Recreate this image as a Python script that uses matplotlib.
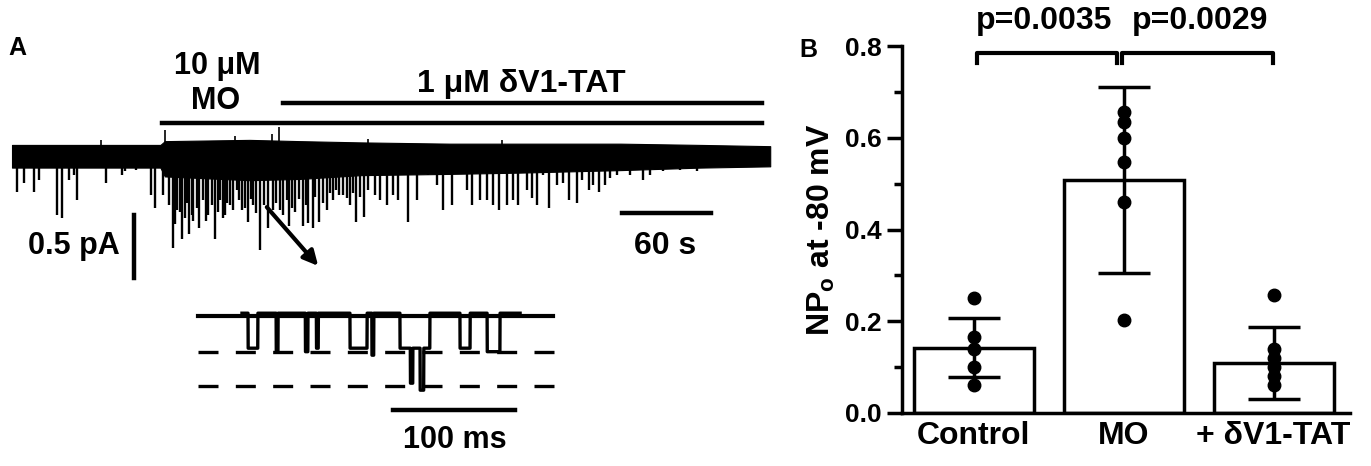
import numpy as np
import matplotlib.pyplot as plt

plt.rcParams['font.family'] = ['Liberation Sans', 'DejaVu Sans']
plt.rcParams['font.weight'] = 'bold'
plt.rcParams['axes.labelweight'] = 'bold'
plt.rcParams['mathtext.fontset'] = 'custom'
plt.rcParams['mathtext.rm'] = 'Liberation Sans:bold'
plt.rcParams['mathtext.bf'] = 'Liberation Sans:bold'

# ---- panel A: long recording (time in s, current in pA) ----
spike_t = [3.4, 8.1, 14.8, 18.2, 30.3, 33.7, 38.4, 41.8, 43.8, 63.4, 74.1, 76.2,
           83.6, 93.7, 96.4, 101.8,
           108.5, 111.2, 114.6, 116.6, 119.3, 122.0, 126.0, 128.7, 132.1, 136.8,
           140.2, 143.6, 146.9, 149.0, 151.7, 155.0, 159.1, 162.4, 167.2, 172.5,
           175.9, 182.7, 186.7, 190.7, 196.1, 199.5, 202.9, 206.9, 212.3, 216.4,
           220.4, 223.1, 227.8, 231.9, 237.2, 244.7, 248.0, 252.8, 256.8, 260.2,
           266.9, 273.0, 280.4, 286.5, 290.5, 296.6, 306.7, 310.0, 315.4, 320.2,
           324.2, 328.2, 333.6, 337.7, 341.0, 347.1, 350.5, 353.9, 357.9, 361.9,
           367.3, 371.4, 375.4, 380.8, 384.2, 388.9, 391.6, 395.6, 399.7, 403.1,
           407.8, 416.5, 425.3, 430.0, 438.8, 450.2, 461.7,
           106.0, 110.0, 113.0, 118.0, 121.0, 124.5, 130.5, 134.5, 138.5, 142.0,
           145.0, 152.8, 157.0, 161.0, 164.5, 170.0, 178.0, 180.5, 185.0, 189.0,
           193.5, 198.0, 204.5, 209.5, 214.5, 218.5, 225.5, 229.5, 234.5, 240.0]
spike_amp = [-0.29, -0.22, -0.29, -0.20, -0.48, -0.50, -0.20, -0.16, -0.36, -0.22, -0.16, -0.13,
             -0.12, -0.32, -0.42, -0.32,
             -0.74, -0.44, -0.67, -0.50, -0.63, -0.52, -0.58, -0.36, -0.48, -0.67,
             -0.36, -0.48, -0.40, -0.44, -0.28, -0.44, -0.53, -0.40, -0.75, -0.58,
             -0.44, -0.48, -0.56, -0.45, -0.56, -0.54, -0.58, -0.53, -0.44, -0.36,
             -0.32, -0.32, -0.40, -0.53, -0.49, -0.32, -0.36, -0.40, -0.32, -0.36,
             -0.53, -0.36, -0.16, -0.24, -0.44, -0.40, -0.28, -0.40, -0.36, -0.36,
             -0.40, -0.44, -0.40, -0.36, -0.40, -0.28, -0.34, -0.40, -0.16, -0.42,
             -0.24, -0.22, -0.36, -0.38, -0.20, -0.28, -0.24, -0.29, -0.24, -0.18,
             -0.16, -0.16, -0.20, -0.16, -0.13, -0.12, -0.13,
             -0.40, -0.55, -0.45, -0.38, -0.48, -0.42, -0.52, -0.40, -0.45, -0.50,
             -0.38, -0.36, -0.42, -0.35, -0.46, -0.40, -0.38, -0.44, -0.36, -0.42,
             -0.35, -0.40, -0.33, -0.38, -0.30, -0.28, -0.34, -0.30, -0.33, -0.28]
up_t = [60, 103, 150, 175, 180, 240, 330]
up_amp = [0.12, 0.20, 0.15, 0.17, 0.22, 0.13, 0.12]
env_t = [0, 100, 103, 160, 194, 235, 295, 342, 410, 464, 511]
env_hi = [0.08, 0.08, 0.11, 0.12, 0.11, 0.10, 0.09, 0.09, 0.09, 0.08, 0.07]
env_lo = [-0.10, -0.10, -0.17, -0.20, -0.19, -0.16, -0.15, -0.14, -0.12, -0.10, -0.09]

# ---- panel A inset: single channel openings (time in ms, level in channels) ----
open_start = [5, 28, 52, 61, 88.5, 106.5, 129.5, 178.7, 201]
open_end = [13, 29.5, 54, 62.5, 102.5, 108, 154, 187, 211.5]
open_level = [-1, -1.1, -1.1, -1, -1, -1.2, -1, -1, -1.1]
dbl_start = [138, 146]
dbl_end = [140, 149]
dbl_level = [-2, -2.2]
inset_len = 228

# ---- panel B ----
groups = ['Control', 'MO', '+ δV1-TAT']
bar_mean = [0.142, 0.508, 0.109]
bar_sd = [0.064, 0.203, 0.079]
ctrl_pts = [0.25, 0.165, 0.14, 0.10, 0.06]
mo_pts = [0.656, 0.634, 0.60, 0.547, 0.46, 0.203]
tat_pts = [0.257, 0.14, 0.12, 0.10, 0.08, 0.06]

fig = plt.figure(figsize=(13.71, 4.66), dpi=100)

# panel A
axA = fig.add_axes([0, 0, 780 / 1371, 1])
axA.set_xlim(-8.09, 517.6)
axA.set_ylim(-2.468, 1.230)
axA.axis('off')
axA.fill_between(env_t, env_lo, env_hi, color='black', lw=0.8)
axA.vlines(spike_t, 0, spike_amp, color='black', lw=1.7)
axA.vlines(up_t, 0, up_amp, color='black', lw=1.2)
axA.plot([101.1, 505.5], [0.254, 0.254], color='black', lw=3.2)
axA.plot([182.7, 505.5], [0.413, 0.413], color='black', lw=3.2)
axA.text(138, 0.71, '10 μM', ha='center', va='center', fontsize=22)
axA.text(137, 0.43, 'MO', ha='center', va='center', fontsize=22)
axA.text(343, 0.56, '1 μM δV1-TAT', ha='center', va='center', fontsize=23)
axA.text(3.4, 0.85, 'A', ha='center', va='center', fontsize=18)
axA.plot([411.1, 471.1], [-0.46, -0.46], color='black', lw=3.2)
axA.text(440, -0.72, '60 s', ha='center', va='center', fontsize=23)
axA.plot([82.2, 82.2], [-0.476, -0.976], color='black', lw=3.2)
axA.text(72.8, -0.72, '0.5 pA', ha='right', va='center', fontsize=22)
axA.annotate('', xy=(207.6, -0.897), xytext=(170.5, -0.397),
             arrowprops=dict(arrowstyle='-|>', color='black', lw=3, mutation_scale=22))

# inset
axI = fig.add_axes([190 / 1371, (466 - 450) / 466, 370 / 1371, 160 / 466])
axI.set_xlim(-42.6, 260.7)
axI.set_ylim(-3.83, 0.743)
axI.axis('off')
tt = np.linspace(0, inset_len, 3000)
yy = np.zeros_like(tt)
for s, e, lv in zip(open_start, open_end, open_level):
    yy[(tt >= s) & (tt <= e)] = lv
for s, e, lv in zip(dbl_start, dbl_end, dbl_level):
    yy[(tt >= s) & (tt <= e)] = lv
axI.plot([-36.1, 254.9], [0, 0], color='black', lw=3)
axI.plot([-36.1, 257], [-1.03, -1.03], color='black', lw=2.4, ls=(0, (6, 5.2)))
axI.plot([-36.1, 257], [-2.0, -2.0], color='black', lw=2.4, ls=(0, (6, 5.2)))
axI.plot(tt, yy + 0.08, color='black', lw=2.4)
axI.plot([123.8, 223.8], [-2.69, -2.69], color='black', lw=3.2)
axI.text(174.6, -3.54, '100 ms', ha='center', va='center', fontsize=22)

# panel B
axB = fig.add_axes([902 / 1371, 53 / 466, 448 / 1371, 367 / 466])
x = np.arange(len(groups))
axB.bar(x, bar_mean, width=0.8, color='white', edgecolor='black', linewidth=2.5, zorder=1)
axB.errorbar(x, bar_mean, yerr=bar_sd, fmt='none', ecolor='black', elinewidth=2.5,
             capsize=19, capthick=2.5, zorder=2)
for i, pts in enumerate([ctrl_pts, mo_pts, tat_pts]):
    axB.plot([i] * len(pts), pts, 'o', color='black', ms=9, zorder=3, clip_on=False)
axB.set_xlim(-0.48, 2.51)
axB.set_ylim(0, 0.8)
for s in ['top', 'right']:
    axB.spines[s].set_visible(False)
for s in ['left', 'bottom']:
    axB.spines[s].set_linewidth(2.5)
axB.set_yticks([0, 0.2, 0.4, 0.6, 0.8])
axB.set_yticks([0.1, 0.3, 0.5, 0.7], minor=True)
axB.set_yticklabels(['0.0', '0.2', '0.4', '0.6', '0.8'])
axB.tick_params(axis='y', which='major', length=11, width=2.5, labelsize=19)
axB.tick_params(axis='y', which='minor', length=6, width=2.5)
axB.set_xticks(x)
axB.set_xticklabels(groups)
axB.tick_params(axis='x', length=0, labelsize=23, pad=6)
axB.set_ylabel(r'NP$_\mathrm{o}$ at -80 mV', fontsize=23, fontweight='bold', labelpad=6)

axB.plot([0.02, 0.02, 0.953, 0.953], [0.763, 0.784, 0.784, 0.763], color='black', lw=3, clip_on=False)
axB.plot([0.987, 0.987, 1.993, 1.993], [0.763, 0.784, 0.784, 0.763], color='black', lw=3, clip_on=False)
axB.text(0.47, 0.855, 'p=0.0035', ha='center', va='center', fontsize=23)
axB.text(1.51, 0.855, 'p=0.0029', ha='center', va='center', fontsize=23)
fig.text(808 / 1371, 1 - 50 / 466, 'B', ha='center', va='center', fontsize=18)

fig.savefig('out.png', dpi=100)
